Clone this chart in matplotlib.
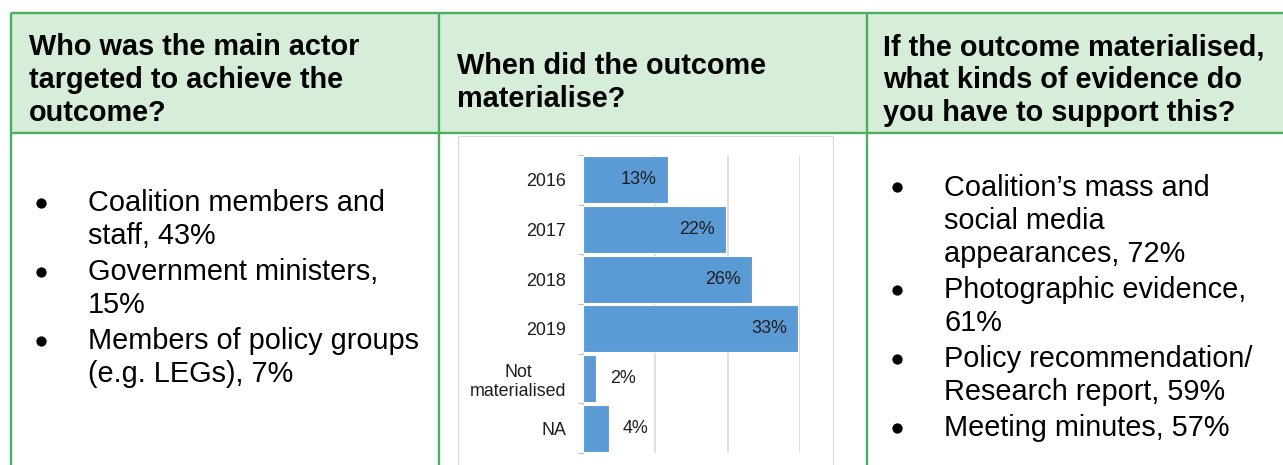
import matplotlib.pyplot as plt
from matplotlib.patches import Rectangle

plt.rcParams['font.family'] = ['Liberation Sans', 'DejaVu Sans']

W, H = 1283, 465

# table text
headers = [
    ["Who was the main actor", "targeted to achieve the", "outcome?"],
    ["When did the outcome", "materialise?"],
    ["If the outcome materialised,", "what kinds of evidence do", "you have to support this?"],
]
actors = [
    ["Coalition members and", "staff, 43%"],
    ["Government ministers,", "15%"],
    ["Members of policy groups", "(e.g. LEGs), 7%"],
]
evidence = [
    ["Coalition\u2019s mass and", "social media", "appearances, 72%"],
    ["Photographic evidence,", "61%"],
    ["Policy recommendation/", "Research report, 59%"],
    ["Meeting minutes, 57%"],
]

# chart data
periods = ["2016", "2017", "2018", "2019", "Not\nmaterialised", "NA"]
shares = [13, 22, 26, 33, 2, 4]

green = '#4CAF5F'
head_fill = '#D6EDDA'
bar_blue = '#5B9BD5'
grid_grey = '#D9D9D9'
fs = 20.8

fig = plt.figure(figsize=(W / 100, H / 100), dpi=100)
fig.patch.set_facecolor('white')

bg = fig.add_axes([0, 0, 1, 1])
bg.set_xlim(0, W)
bg.set_ylim(H, 0)
bg.axis('off')

# header band and borders
bg.add_patch(Rectangle((11, 13), W, 120, facecolor=head_fill, edgecolor='none'))
for y in (13, 133):
    bg.plot([11, W], [y, y], color=green, lw=1.7, solid_capstyle='butt')
for x in (11, 439, 867):
    bg.plot([x, x], [13, H], color=green, lw=1.7, solid_capstyle='butt')

# chart frame inside the middle cell
bg.add_patch(Rectangle((458, 136), 375, 400, facecolor='white',
                       edgecolor=grid_grey, lw=0.9))


def draw_lines(x, baselines, lines, **kw):
    for yb, line in zip(baselines, lines):
        bg.text(x, yb, line, fontsize=fs, va='baseline', ha='left',
                color='black', **kw)


header_x = [29, 457, 883]
header_y = [[55, 88, 121], [74, 107], [55, 88, 121]]
for x, ys, lines in zip(header_x, header_y, headers):
    draw_lines(x, ys, lines, fontweight='bold')


def draw_bullets(bx, tx, first, items):
    y = first
    for item in items:
        bg.plot(bx, y - 8.5, marker='o', ms=7.4, color='black', mec='none')
        ys = [y + 33 * k for k in range(len(item))]
        draw_lines(tx, ys, item)
        y = ys[-1] + 36


draw_bullets(41, 88, 211, actors)
draw_bullets(897, 944, 196, evidence)

# bar chart
ax = fig.add_axes([583 / W, 1 - 453 / H, 217 / W, 298 / H])
ax.set_facecolor('none')
pos = list(range(len(periods)))
ax.barh(pos, shares, height=0.95, color=bar_blue, edgecolor='white',
        lw=0.8, zorder=3)
ax.set_ylim(len(periods) - 0.5, -0.5)
ax.set_xlim(0, 100 / 3)

ax.set_xticks([100 / 9, 200 / 9, 100 / 3])
ax.tick_params(axis='x', length=0, labelbottom=False)
ax.grid(axis='x', color=grid_grey, lw=1.2, zorder=0)

ax.set_yticks(pos)
ax.set_yticklabels(periods, fontsize=12.9, color='#1E1E1E',
                   multialignment='center')
ax.set_yticks([p - 0.5 for p in pos] + [len(periods) - 0.5], minor=True)
ax.tick_params(axis='y', which='major', length=0, pad=12)
ax.tick_params(axis='y', which='minor', length=3.6, color='#BFBFBF', width=0.8)

for s in ('top', 'right', 'bottom'):
    ax.spines[s].set_visible(False)
ax.spines['left'].set_color('#C8C8C8')
ax.spines['left'].set_linewidth(0.9)

for p, v in zip(pos, shares):
    if v >= 10:
        ax.annotate(f"{v}%", (v, p), xytext=(-8, 0), textcoords='offset points',
                    ha='right', va='center', fontsize=12.9, color='#1E1E1E',
                    zorder=4)
    else:
        ax.annotate(f"{v}%", (v, p), xytext=(10, 0), textcoords='offset points',
                    ha='left', va='center', fontsize=12.9, color='#1E1E1E',
                    zorder=4)

fig.savefig('out.png', dpi=100)
